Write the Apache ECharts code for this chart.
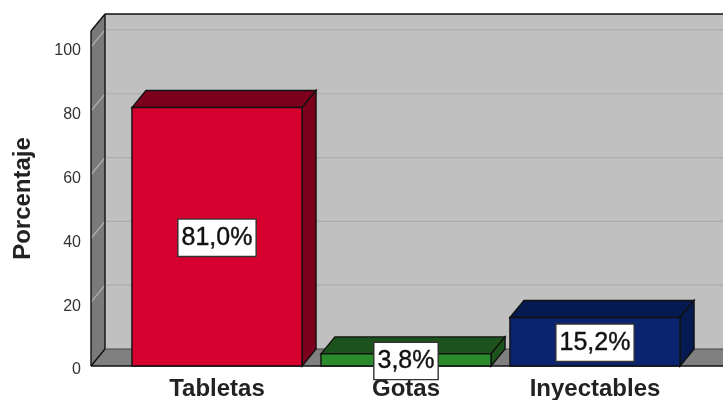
<!DOCTYPE html>
<html>
<head>
<meta charset="utf-8">
<style>
  html, body { margin: 0; padding: 0; background: #fff; }
  #chart { width: 723px; height: 400px; }
</style>
<script src="https://cdn.jsdelivr.net/npm/echarts@6/dist/echarts.min.js"></script>
</head>
<body>
<div id="chart"></div>
<script>
const categories = ['Tabletas', 'Gotas', 'Inyectables'];
const values = [81.0, 3.8, 15.2];
const yTicks = [0, 20, 40, 60, 80, 100];
const frontColors = ['#d6002e', '#2a8a2c', '#0b2470'];
const darkColors = ['#7c001c', '#1c521c', '#051a50'];

const depthX = 14;
const depthY = 17;
const edge = { stroke: '#111', lineWidth: 1.4 };

function poly(points, fill, stroke) {
  return {
    type: 'polygon',
    shape: { points: points },
    style: stroke ? { fill: fill, ...edge } : { fill: fill }
  };
}

function line(x1, y1, x2, y2, style) {
  return { type: 'line', shape: { x1, y1, x2, y2 }, style: style };
}

// walls and floor behind the bars
function renderBackdrop(params, api) {
  const cs = params.coordSys;
  const left = 91;
  const right = api.getWidth() + 2;
  const top = cs.y;
  const base = cs.y + cs.height;
  const children = [
    poly([[left + depthX, top - depthY], [right, top - depthY], [right, base - depthY], [left + depthX, base - depthY]], '#c0c0c0'),
    poly([[left, top], [left + depthX, top - depthY], [left + depthX, base - depthY], [left, base]], '#7a7a7a'),
    poly([[left, base], [left + depthX, base - depthY], [right + depthX, base - depthY], [right, base]], '#808080')
  ];
  yTicks.filter(t => t > 0).forEach(t => {
    const y = api.coord([0, t])[1];
    children.push(line(left, y, left + depthX, y - depthY, { stroke: '#b4b4b4', lineWidth: 1.2 }));
    children.push(line(left + depthX, y - depthY, right, y - depthY, { stroke: '#adadad', lineWidth: 1.2 }));
  });
  children.push(line(left + depthX, top - depthY, right, top - depthY, edge));
  children.push(line(left, top, left + depthX, top - depthY, edge));
  children.push(line(left, top, left, base, edge));
  children.push(line(left + depthX, top - depthY, left + depthX, base - depthY, edge));
  children.push(line(left, base, left + depthX, base - depthY, edge));
  children.push(line(left + depthX, base - depthY, right, base - depthY, { stroke: '#444', lineWidth: 1 }));
  children.push(line(left, base, right, base, edge));
  return { type: 'group', children: children };
}

function renderBar(params, api) {
  const i = api.value(0);
  const top = api.coord([i, api.value(1)]);
  const base = api.coord([i, 0]);
  const w = api.size([1, 0])[0] * 0.9;
  const x0 = top[0] - w / 2;
  const x1 = top[0] + w / 2;
  const y0 = top[1];
  const y1 = base[1];
  const front = frontColors[i];
  const dark = darkColors[i];
  return {
    type: 'group',
    children: [
      poly([[x0, y0], [x0 + depthX, y0 - depthY], [x1 + depthX, y0 - depthY], [x1, y0]], dark, true),
      poly([[x1, y0], [x1 + depthX, y0 - depthY], [x1 + depthX, y1 - depthY], [x1, y1]], dark, true),
      poly([[x0, y0], [x1, y0], [x1, y1], [x0, y1]], front, true),
      {
        type: 'text',
        z2: 10,
        style: {
          x: top[0],
          y: (y0 + y1) / 2 + 1,
          text: values[i].toFixed(1).replace('.', ',') + '%',
          align: 'center',
          verticalAlign: 'middle',
          fill: '#111',
          stroke: '#111',
          lineWidth: 0.4,
          font: '25px "Liberation Sans", Arial, sans-serif',
          backgroundColor: '#fff',
          borderColor: '#333',
          borderWidth: 1.4,
          padding: [8, 3, 3, 3]
        }
      }
    ]
  };
}

const myChart = echarts.init(document.getElementById('chart'));
myChart.setOption({
  animation: false,
  backgroundColor: '#fff',
  textStyle: { fontFamily: '"Liberation Sans", Arial, sans-serif' },
  grid: { left: 122.5, width: 567, top: 31, bottom: 34, outerBoundsMode: 'none' },
  xAxis: {
    type: 'category',
    data: categories,
    axisLine: { show: false },
    axisTick: { show: false },
    axisLabel: {
      interval: 0,
      margin: 11,
      fontSize: 24,
      fontWeight: 'bold',
      color: '#222'
    }
  },
  yAxis: {
    type: 'value',
    min: 0,
    max: 105,
    offset: 31.5,
    axisLine: { show: false },
    axisTick: { show: false },
    splitLine: { show: false },
    axisLabel: {
      customValues: yTicks,
      margin: 10,
      fontSize: 16,
      color: '#333',
      verticalAlign: 'top',
      lineHeight: 8
    },
    name: 'Porcentaje',
    nameLocation: 'middle',
    nameGap: 56,
    nameTextStyle: { fontSize: 24, fontWeight: 'bold', color: '#222' }
  },
  series: [
    {
      type: 'custom',
      silent: true,
      z: 1,
      data: [[0, 0]],
      renderItem: renderBackdrop
    },
    {
      type: 'custom',
      z: 2,
      data: values.map((v, i) => [i, v]),
      encode: { x: 0, y: 1 },
      renderItem: renderBar
    }
  ]
});
</script>
</body>
</html>
